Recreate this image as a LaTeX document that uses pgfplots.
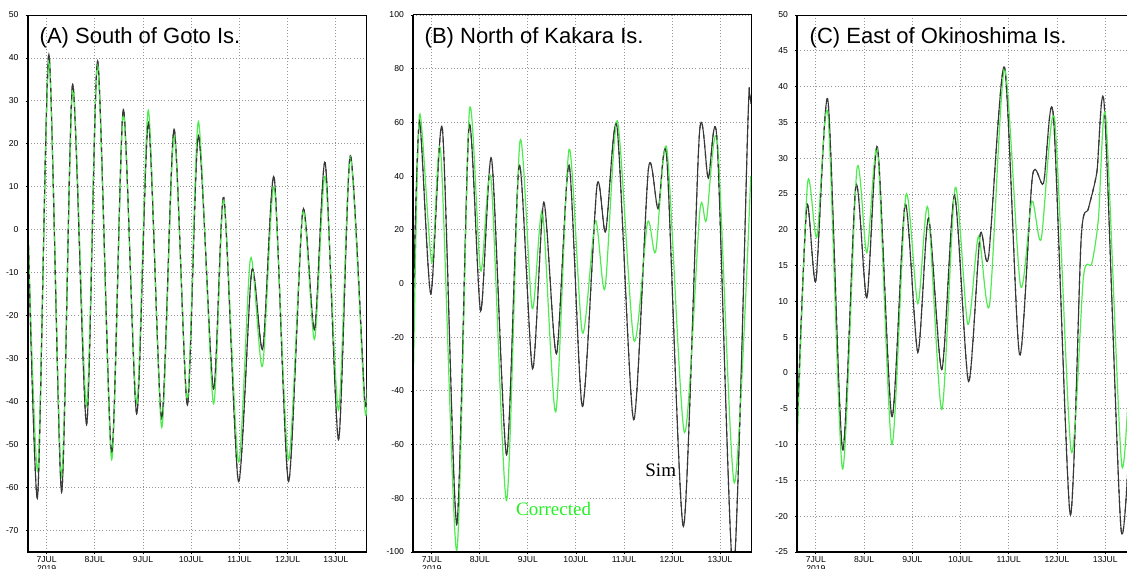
\documentclass[border=0pt]{standalone}
\usepackage{pgfplots}
\pgfplotsset{compat=1.18}
\usepackage{pgfplotstable}
\usepackage{fontspec}
\setmainfont{Liberation Sans}
\newfontfamily\seriff{Liberation Serif}
\definecolor{simc}{RGB}{55,55,55}
\definecolor{corc}{RGB}{80,235,80}
\definecolor{cortxt}{RGB}{40,240,40}
\definecolor{gridc}{RGB}{150,150,150}

\pgfplotstableread{
d v
-0.39 3
-0.187 -62.2
0.048 40.8
0.311 -61
0.540 33.9
0.830 -45.3
1.059 39.3
1.349 -52
1.592 28
1.869 -42.8
2.111 25
2.388 -44
2.644 23.4
2.920 -40.8
3.149 22
3.460 -37
3.675 7.5
3.979 -58.6
4.256 -9.5
4.484 -27.7
4.720 12.2
5.017 -58.6
5.315 4.5
5.557 -23.3
5.779 15.6
6.055 -48.8
6.298 17.3
6.595 -39
6.65 -35
}\simA
\pgfplotstableread{
d v
-0.39 3
-0.18 -56
0.05 39.5
0.31 -57.5
0.545 33
0.83 -41
1.06 38.5
1.349 -53.5
1.592 27
1.869 -40.5
2.111 27.8
2.388 -46
2.644 22
2.920 -39.5
3.149 25.2
3.460 -40.5
3.675 7
3.979 -54
4.23 -6.6
4.477 -31.8
4.720 10
5.017 -53.5
5.315 4
5.557 -25.5
5.779 12.5
6.055 -42
6.298 17
6.595 -41
6.65 -37
}\corA
\pgfplotstableread{
d v
-0.38 -5
-0.256 60.3
-0.021 -3.8
0.221 57.5
0.519 -89.6
0.775 58.4
1.017 -10.2
1.246 46.3
1.557 -63.7
1.820 44.1
2.097 -31.8
2.332 30.2
2.595 -26.1
2.858 44.1
3.135 -45.8
3.439 36.4
3.619 19.3
3.855 58.4
4.201 -50.7
4.510 42.8
4.710 27.8
4.893 46.3
5.239 -90.5
5.570 55.5
5.755 39.2
5.940 52.8
6.277 -108
6.580 60
6.615 70
6.645 67
}\simB
\pgfplotstableread{
d v
-0.38 -32
-0.256 62.9
0 7.9
0.187 48.9
0.519 -99.5
0.782 64.2
1.017 4.7
1.232 39
1.557 -80.8
1.834 52.8
2.090 -9.3
2.304 26.7
2.581 -47.8
2.858 50
3.135 -18.4
3.405 23.4
3.605 -1.8
3.862 60.6
4.208 -21.2
4.490 22.7
4.660 11.8
4.893 50.2
5.259 -55.5
5.580 27
5.715 23.5
5.945 52.8
6.298 -74.3
6.64 40
}\corB
\pgfplotstableread{
d v
-0.38 -6
-0.187 23.3
0 12.9
0.249 38.1
0.553 -10.7
0.829 26.1
1.057 10.5
1.279 31.5
1.576 -6.1
1.852 23.6
2.115 2.9
2.336 21.6
2.612 0.5
2.875 24.8
3.165 -1.2
3.407 19.3
3.580 16.2
3.912 42.7
4.222 2.6
4.492 27.5
4.720 26.5
4.927 35.8
5.273 -19.7
5.501 18.7
5.653 23
5.826 28
5.985 37
6.330 -21.9
6.55 -2
}\simC
\pgfplotstableread{
d v
-0.38 -8.5
-0.173 26.5
0.021 19
0.249 36.2
0.553 -13.4
0.850 28.4
1.057 16.8
1.279 31
1.576 -10
1.866 24.8
2.115 9.7
2.322 23.1
2.612 -5.1
2.889 25.9
3.151 6.8
3.372 19.1
3.601 9.5
3.912 42.5
4.243 12.2
4.478 24
4.672 18.7
4.948 35.5
5.294 -10.9
5.549 13.4
5.722 15.3
5.860 21.6
6.012 35.7
6.344 -12.9
6.55 8
}\corC

\pgfplotsset{
 panel/.style={
  scale only axis, height=268.5pt, anchor=south west,
  xmin=-0.385, xmax=6.645,
  xtick={0,...,6},
  xticklabels={{7JUL\\2019},8JUL,9JUL,10JUL,11JUL,12JUL,13JUL},
  xticklabel style={align=center, font=\fontsize{4.3}{4.6}\selectfont, inner sep=1pt},
  yticklabel style={font=\fontsize{4.3}{4.6}\selectfont},
  /pgf/number format/assume math mode=true,
  xtick pos=bottom, ytick pos=left,
  grid=major,
  major grid style={gridc, line width=0.45pt, dash pattern=on 0.45pt off 1.1pt},
  tick align=outside, major tick length=1.2pt,
  tick style={black, line width=0.4pt},
  axis line style={line width=0.5pt},
  clip mode=individual,
 },
 sim/.style={simc, line width=0.55pt, smooth, tension=0.45, no marks},
 cor/.style={corc, line width=0.6pt, smooth, tension=0.45, no marks},
 simd/.style={simc, line width=0.55pt, smooth, tension=0.45, no marks, dash pattern=on 2.2pt off 2.6pt},
}

\begin{document}
\begin{tikzpicture}
% Panel A
\begin{axis}[panel, at={(14pt,8pt)}, width=169.5pt,
  ymin=-75, ymax=50, ytick={-70,-60,...,50}]
\addplot[sim] table[x=d,y=v]{\simA};
\addplot[cor] table[x=d,y=v]{\corA};
\addplot[simd] table[x=d,y=v]{\simA};
\draw[line width=1pt] (rel axis cs:0,1)--(rel axis cs:0,0)--(rel axis cs:1,0);
\end{axis}
% Panel B
\begin{axis}[panel, at={(206.65pt,8pt)}, width=168.85pt,
  ymin=-100, ymax=100, ytick={-100,-80,...,100}]
\addplot[sim] table[x=d,y=v]{\simB};
\addplot[cor] table[x=d,y=v]{\corB};
\addplot[simd] table[x=d,y=v]{\simB};
\draw[line width=1pt] (rel axis cs:0,1)--(rel axis cs:0,0)--(rel axis cs:1,0);
\end{axis}
% Panel C
\begin{axis}[panel, at={(398.65pt,8pt)}, width=169.5pt,
  ymin=-25, ymax=50, ytick={-25,-20,...,50}]
\addplot[sim] table[x=d,y=v]{\simC};
\addplot[cor] table[x=d,y=v]{\corC};
\addplot[simd] table[x=d,y=v]{\simC};
\draw[line width=1pt] (rel axis cs:0,1)--(rel axis cs:0,0)--(rel axis cs:1,0);
\end{axis}
\node[anchor=base west, inner sep=0pt, font=\fontsize{11}{13}\selectfont] at (19.65pt,262.35pt) {(A) South of Goto Is.};
\node[anchor=base west, inner sep=0pt, font=\fontsize{11}{13}\selectfont] at (212.15pt,262.35pt) {(B) North of Kakara Is.};
\node[anchor=base west, inner sep=0pt, font=\fontsize{11}{13}\selectfont] at (404.65pt,262.35pt) {(C) East of Okinoshima Is.};
\node[anchor=base west, inner sep=0pt, font=\seriff\fontsize{9.5}{11}\selectfont] at (322.5pt,45.65pt) {Sim};
\node[anchor=base west, inner sep=0pt, font=\seriff\fontsize{9.5}{11}\selectfont, text=cortxt] at (257.85pt,26.15pt) {Corrected};
\pgfresetboundingbox
\useasboundingbox (0,0) rectangle (563.5pt,284pt);
\end{tikzpicture}
\end{document}
